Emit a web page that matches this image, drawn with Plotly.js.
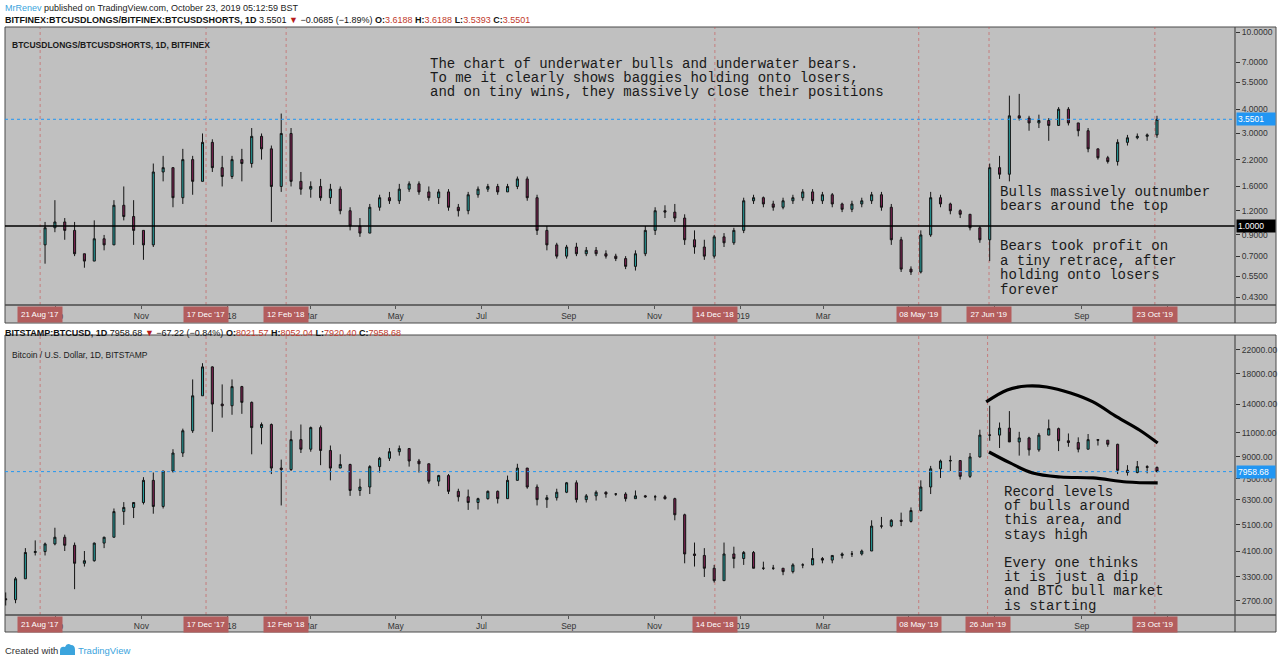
<!DOCTYPE html>
<html>
<head>
<meta charset="utf-8">
<script src="https://cdn.plot.ly/plotly-3.0.1.min.js"></script>
<style>html,body{margin:0;padding:0;background:#fff;}#chart{width:1280px;height:663px;}</style>
</head>
<body>
<div id="chart"></div>
<script>
// ---------- DATA ----------
const weeks = [
'2017-07-24','2017-07-31','2017-08-07','2017-08-14','2017-08-21','2017-08-28','2017-09-04','2017-09-11','2017-09-18','2017-09-25','2017-10-02','2017-10-09','2017-10-16','2017-10-23','2017-10-30','2017-11-06','2017-11-13','2017-11-20','2017-11-27','2017-12-04','2017-12-11','2017-12-18','2017-12-25',
'2018-01-01','2018-01-08','2018-01-15','2018-01-22','2018-01-29','2018-02-05','2018-02-12','2018-02-19','2018-02-26','2018-03-05','2018-03-12','2018-03-19','2018-03-26','2018-04-02','2018-04-09','2018-04-16','2018-04-23','2018-04-30','2018-05-07','2018-05-14','2018-05-21','2018-05-28','2018-06-04','2018-06-11','2018-06-18','2018-06-25','2018-07-02','2018-07-09','2018-07-16','2018-07-23','2018-07-30','2018-08-06','2018-08-13','2018-08-20','2018-08-27','2018-09-03','2018-09-10','2018-09-17','2018-09-24','2018-10-01','2018-10-08','2018-10-15','2018-10-22','2018-10-29','2018-11-05','2018-11-12','2018-11-19','2018-11-26','2018-12-03','2018-12-10','2018-12-17','2018-12-24','2018-12-31',
'2019-01-07','2019-01-14','2019-01-21','2019-01-28','2019-02-04','2019-02-11','2019-02-18','2019-02-25','2019-03-04','2019-03-11','2019-03-18','2019-03-25','2019-04-01','2019-04-08','2019-04-15','2019-04-22','2019-04-29','2019-05-06','2019-05-13','2019-05-20','2019-05-27','2019-06-03','2019-06-10','2019-06-17','2019-06-24','2019-07-01','2019-07-08','2019-07-15','2019-07-22','2019-07-29','2019-08-05','2019-08-12','2019-08-19','2019-08-26','2019-09-02','2019-09-09','2019-09-16','2019-09-23','2019-09-30','2019-10-07','2019-10-14','2019-10-21'
];

// BITSTAMP:BTCUSD weekly OHLC
const btcOpen = [2750,2730,3250,4050,4080,4350,4600,4300,3700,3780,4380,4600,5700,5900,6150,7400,5950,8000,9300,11200,15000,19100,14000,
13800,16200,14200,11500,11800,8200,8100,10400,9600,11500,9500,8200,8450,6800,7000,8300,8900,9400,9650,8700,8500,7350,7700,6750,6450,6150,6350,6750,6350,7400,8200,7000,6300,6400,6700,7250,6300,6500,6700,6600,6600,6350,6500,6450,6450,6350,5550,4000,3950,3550,3200,4000,3850,
4050,3550,3550,3550,3450,3650,3650,3850,3800,3950,4000,4000,4100,5050,5050,5300,5250,5750,7000,8150,8700,8730,7650,9000,10800,10800,11450,10200,10550,9550,10800,11400,10300,10150,9600,10400,10350,10000,8050,7900,8300,8250];
const btcHigh = [2900,3300,4200,4480,4400,4980,4700,4400,4100,4400,4620,5850,6170,6100,7600,7900,8000,9600,11400,17200,19700,19200,16500,
17200,16300,14300,12000,11900,8800,11200,11800,11600,11700,9900,9200,8500,7500,8400,9000,9700,9900,9700,8850,8500,7750,7800,6900,6850,6400,6800,6800,7700,8500,8200,7150,6550,6900,7300,7400,6600,6800,6750,6650,6700,6800,6550,6550,6550,6400,5600,4400,4200,3650,4400,4250,4100,
4100,3750,3650,3550,3700,3700,4200,3900,3950,4050,4100,4150,5300,5450,5350,5650,5900,7400,8350,8800,9100,8750,9300,11300,13800,12000,13200,11100,10650,11000,12300,11500,10950,10600,10900,10450,10350,10050,8400,8700,8400,8300];
const btcLow = [2600,2650,3250,3950,3950,4300,4100,2980,3600,3750,4200,4600,5100,5400,6050,5600,5850,7900,9000,11000,15000,11100,12500,
12800,12900,9200,10000,7800,6000,8000,9300,9400,8400,7400,8200,6500,6500,6600,7900,8700,9100,8300,7900,7200,7050,6600,6200,5780,5800,6300,6100,6350,7400,6900,6000,5880,6250,6650,6150,6150,6250,6400,6500,6200,6350,6400,6250,6300,5300,3700,3600,3300,3150,3200,3550,3650,
3550,3500,3500,3350,3400,3550,3650,3700,3700,3850,3900,3950,4100,4950,5000,5050,5200,5700,6600,7550,8000,7450,7550,8950,10300,9700,11100,9100,9100,9400,10800,9450,9800,9350,9600,9900,9800,7800,7700,7850,7850,7920];
const btcClose = [2730,3250,4050,4080,4350,4600,4300,3700,3780,4380,4600,5700,5900,6150,7400,5950,8000,9300,11200,15000,19100,14000,13800,
16200,14200,11500,11800,8200,8100,10400,9600,11500,9500,8200,8450,6800,7000,8300,8900,9400,9650,8700,8500,7350,7700,6750,6450,6150,6350,6750,6350,7400,8200,7000,6300,6400,6700,7250,6300,6500,6700,6600,6600,6350,6500,6450,6450,6350,5550,4000,3950,3550,3200,4000,3850,4050,
3550,3550,3550,3450,3650,3650,3850,3800,3950,4000,4000,4100,5050,5050,5300,5250,5750,7000,8150,8700,8730,7650,9000,10800,10800,11450,10200,10550,9550,10800,11400,10300,10150,9600,10400,10350,10000,8050,7900,8300,8250,7958.68];

// BITFINEX longs/shorts ratio weekly OHLC (from week of 2017-08-21)
const ratioOpen = [0.80,0.98,1.05,0.95,0.72,0.66,0.86,0.80,1.28,1.12,0.95,0.80,1.9,2.0,1.4,2.2,1.7,2.7,2.0,1.8,2.2,2.1,2.9,2.5,1.6,3.0,1.7,1.55,1.6,1.4,1.55,1.2,1.0,0.92,1.25,1.4,1.35,1.55,1.65,1.5,1.4,1.5,1.25,1.2,1.45,1.55,1.6,1.5,1.6,1.75,1.4,0.95,0.8,0.7,0.78,0.72,0.75,0.72,0.7,0.68,0.62,0.72,0.95,1.2,1.18,1.1,0.85,0.78,0.7,0.88,0.82,0.95,1.35,1.4,1.3,1.25,1.35,1.4,1.5,1.35,1.45,1.3,1.22,1.3,1.35,1.45,1.25,0.85,0.6,0.58,0.9,1.4,1.3,1.2,1.15,0.98,0.85,2.0,1.85,3.7,3.6,3.4,3.5,3.3,4.0,3.4,3.1,2.5,2.25,2.15,2.7,2.85,2.9,2.95];
const ratioHigh = [1.05,1.36,1.10,1.05,0.72,1.07,0.90,1.36,1.60,1.36,0.95,2.1,2.3,2.0,2.5,2.3,3.0,2.8,2.3,2.3,2.5,3.2,3.0,2.6,3.8,3.2,1.9,1.7,1.75,1.65,1.6,1.25,1.1,1.3,1.45,1.5,1.65,1.7,1.7,1.6,1.55,1.55,1.3,1.5,1.6,1.65,1.65,1.65,1.8,1.8,1.45,1.0,0.82,0.8,0.82,0.78,0.78,0.75,0.72,0.7,0.75,1.0,1.25,1.28,1.3,1.15,0.95,0.85,0.9,0.92,0.98,1.4,1.45,1.42,1.35,1.4,1.45,1.55,1.55,1.5,1.48,1.32,1.35,1.4,1.5,1.5,1.3,0.88,0.62,0.95,1.5,1.45,1.32,1.22,1.15,1.0,2.1,2.3,4.7,4.8,3.7,3.75,3.6,4.1,4.1,3.4,3.2,2.5,2.3,2.8,2.95,3.0,3.0,3.7];
const ratioLow = [0.64,0.93,0.85,0.70,0.61,0.66,0.75,0.80,1.07,0.80,0.67,0.78,1.7,1.25,1.3,1.45,1.7,1.9,1.6,1.75,1.7,2.0,2.2,1.05,1.5,1.6,1.45,1.4,1.35,1.3,1.15,0.95,0.88,0.92,1.2,1.3,1.3,1.5,1.45,1.35,1.3,1.2,1.12,1.15,1.4,1.5,1.45,1.5,1.55,1.35,0.9,0.75,0.68,0.68,0.7,0.7,0.7,0.68,0.66,0.6,0.59,0.7,0.9,1.1,1.05,0.8,0.72,0.67,0.68,0.78,0.8,0.92,1.3,1.25,1.2,1.22,1.3,1.35,1.3,1.3,1.25,1.18,1.18,1.25,1.3,1.2,0.8,0.58,0.56,0.57,0.88,1.25,1.15,1.1,0.95,0.82,0.66,1.75,1.7,3.5,3.1,3.2,2.75,3.3,3.3,2.9,2.4,2.2,2.1,2.05,2.6,2.8,2.75,2.85];
const ratioClose = [0.98,1.05,0.95,0.72,0.66,0.86,0.80,1.28,1.12,0.95,0.80,1.9,2.0,1.4,2.2,1.7,2.7,2.0,1.8,2.2,2.1,2.9,2.5,1.6,3.0,1.7,1.55,1.6,1.4,1.55,1.2,1.0,0.92,1.25,1.4,1.35,1.55,1.65,1.5,1.4,1.5,1.25,1.2,1.45,1.55,1.6,1.5,1.6,1.75,1.4,0.95,0.8,0.7,0.78,0.72,0.75,0.72,0.7,0.68,0.62,0.72,0.95,1.2,1.18,1.1,0.85,0.78,0.7,0.88,0.82,0.95,1.35,1.4,1.3,1.25,1.35,1.4,1.5,1.35,1.45,1.3,1.22,1.3,1.35,1.45,1.25,0.85,0.6,0.58,0.9,1.4,1.3,1.2,1.15,0.98,0.85,2.0,1.85,3.7,3.6,3.4,3.5,3.3,4.0,3.4,3.1,2.5,2.25,2.15,2.7,2.85,2.9,2.95,3.5501];
const ratioWeeks = weeks.slice(4);

const lastRatio = 3.5501;
const lastBtc = 7958.68;
const baseRatio = 1.0;

const topTickVals = [10,7,5.5,4,3,2.2,1.6,1.2,0.9,0.7,0.55,0.43];
const topTickText = ['10.0000','7.0000','5.5000','4.0000','3.0000','2.2000','1.6000','1.2000','0.9000','0.7000','0.5500','0.4300'];
const botTickVals = [22000,18000,14000,11000,9000,7500,6300,5100,4100,3300,2700];
const botTickText = ['22000.00','18000.00','14000.00','11000.00','9000.00','7500.00','6300.00','5100.00','4100.00','3300.00','2700.00'];

const monthTicks = ['2017-09-01','2017-11-01','2018-01-01','2018-03-01','2018-05-01','2018-07-01','2018-09-01','2018-11-01','2019-01-01','2019-03-01','2019-05-01','2019-07-01','2019-09-01','2019-11-01'];
const monthLabels = ['Sep','Nov','2018','Mar','May','Jul','Sep','Nov','2019','Mar','May','Jul','Sep','Nov'];

const topMarkDates = ['2017-08-21','2017-12-17','2018-02-12','2018-12-14','2019-05-08','2019-06-27','2019-10-23'];
const topMarkLabels = ["21 Aug '17","17 Dec '17","12 Feb '18","14 Dec '18","08 May '19","27 Jun '19","23 Oct '19"];
const botMarkDates = ['2017-08-21','2017-12-17','2018-02-12','2018-12-14','2019-05-08','2019-06-26','2019-10-23'];
const botMarkLabels = ["21 Aug '17","17 Dec '17","12 Feb '18","14 Dec '18","08 May '19","26 Jun '19","23 Oct '19"];

// hand-drawn curves on the BTC panel
const upperCurveX = ['2019-06-25','2019-07-10','2019-07-24','2019-08-07','2019-08-24','2019-09-09','2019-09-26','2019-10-12','2019-10-25'];
const upperCurveY = [14250,15750,16280,16150,15360,14250,12570,11270,10110];
const lowerCurveX = ['2019-06-27','2019-07-12','2019-07-28','2019-08-17','2019-09-09','2019-10-03','2019-10-25'];
const lowerCurveY = [9380,8560,7870,7610,7550,7300,7240];

const xRange = ['2017-07-27','2019-12-19'];

// ---------- LAYOUT HELPERS ----------
const W = 1280, H = 663;
const X = p => p / W;
const Y = p => 1 - p / H;
const GREY = '#c0c0c0';
const BORDER = '#4a4a4a';
const SANS = 'Liberation Sans, Arial, sans-serif';
const MONO = 'Liberation Mono, Courier New, monospace';
const RED = '#c0392b';
const TAG = '#b35d5d';
const BLUE = '#2196f3';

const candleStyle = {
  increasing: {line: {color: '#141414', width: 1}, fillcolor: '#279c9b'},
  decreasing: {line: {color: '#141414', width: 1}, fillcolor: '#7a2150'},
  whiskerwidth: 0,
  xperiod: 7 * 24 * 3600 * 1000,
  xperiod0: '2017-07-24',
  xperiodalignment: 'middle',
  hoverinfo: 'skip'
};

const traces = [
  Object.assign({type: 'candlestick', x: ratioWeeks, open: ratioOpen, high: ratioHigh, low: ratioLow, close: ratioClose, xaxis: 'x', yaxis: 'y'}, candleStyle),
  Object.assign({type: 'candlestick', x: weeks, open: btcOpen, high: btcHigh, low: btcLow, close: btcClose, xaxis: 'x2', yaxis: 'y2'}, candleStyle),
  {type: 'scatter', mode: 'lines', x: xRange, y: [baseRatio, baseRatio], xaxis: 'x', yaxis: 'y', line: {color: '#000', width: 1.6}, hoverinfo: 'skip'},
  {type: 'scatter', mode: 'lines', x: xRange, y: [lastRatio, lastRatio], xaxis: 'x', yaxis: 'y', line: {color: BLUE, width: 1, dash: 'dot'}, hoverinfo: 'skip'},
  {type: 'scatter', mode: 'lines', x: xRange, y: [lastBtc, lastBtc], xaxis: 'x2', yaxis: 'y2', line: {color: BLUE, width: 1, dash: 'dot'}, hoverinfo: 'skip'},
  {type: 'scatter', mode: 'lines', x: upperCurveX, y: upperCurveY, xaxis: 'x2', yaxis: 'y2', line: {color: '#000', width: 3.2, shape: 'spline'}, hoverinfo: 'skip'},
  {type: 'scatter', mode: 'lines', x: lowerCurveX, y: lowerCurveY, xaxis: 'x2', yaxis: 'y2', line: {color: '#000', width: 3.2, shape: 'spline'}, hoverinfo: 'skip'}
];

function xAxis(anchor) {
  return {
    domain: [X(5), X(1235)], anchor: anchor, type: 'date', range: xRange,
    rangeslider: {visible: false}, tickmode: 'array', tickvals: monthTicks, ticktext: monthLabels,
    ticks: 'outside', ticklen: 3, tickcolor: '#555', tickfont: {size: 8.5, color: '#333', family: SANS},
    showgrid: false, showline: false, zeroline: false, fixedrange: true
  };
}
function yAxis(anchor, dom, range, vals, text) {
  return {
    domain: dom, anchor: anchor, type: 'log', side: 'right', range: range,
    tickmode: 'array', tickvals: vals, ticktext: text,
    ticks: 'outside', ticklen: 4, tickcolor: '#333', tickfont: {size: 8.5, color: '#333', family: SANS},
    showgrid: false, showline: false, zeroline: false, fixedrange: true
  };
}

const shapes = [];
function panel(top, axisY, bottom) {
  shapes.push({type: 'rect', xref: 'paper', yref: 'paper', x0: X(5), x1: X(1276), y0: Y(bottom), y1: Y(top), fillcolor: GREY, line: {color: BORDER, width: 1}, layer: 'below'});
  shapes.push({type: 'line', xref: 'paper', yref: 'paper', x0: X(5), x1: X(1276), y0: Y(axisY), y1: Y(axisY), line: {color: BORDER, width: 1.5}, layer: 'above'});
  shapes.push({type: 'line', xref: 'paper', yref: 'paper', x0: X(1235), x1: X(1235), y0: Y(bottom), y1: Y(top), line: {color: BORDER, width: 1.2}, layer: 'above'});
}
panel(27, 305, 323);
panel(335, 615, 632);

const annotations = [];
function vmarks(dates, labels, xref, top, axisY) {
  dates.forEach((d, i) => {
    shapes.push({type: 'line', xref: xref, yref: 'paper', x0: d, x1: d, y0: Y(axisY), y1: Y(top), line: {color: 'rgba(200,80,80,0.6)', width: 1, dash: 'dot'}, layer: 'below'});
    annotations.push({xref: xref, yref: 'paper', x: d, y: Y(axisY + 9), xanchor: 'center', yanchor: 'middle', showarrow: false,
      text: labels[i], bgcolor: TAG, width: 42, height: 13, borderpad: 1, font: {size: 8, color: '#fff', family: SANS}});
  });
}
vmarks(topMarkDates, topMarkLabels, 'x', 27, 305);
vmarks(botMarkDates, botMarkLabels, 'x2', 335, 615);

function priceTag(text, val, yref, bg) {
  annotations.push({xref: 'paper', yref: yref, x: X(1236), y: Math.log10(val), xanchor: 'left', yanchor: 'middle', showarrow: false,
    text: text, bgcolor: bg, width: 36, height: 10, borderpad: 1, align: 'left', font: {size: 8.5, color: '#fff', family: SANS}});
}
priceTag('3.5501', lastRatio, 'y', BLUE);
priceTag('1.0000', baseRatio, 'y', '#000');
priceTag('7958.68', lastBtc, 'y2', BLUE);

function txt(text, x, y, size, family, color) {
  annotations.push({xref: 'paper', yref: 'paper', x: X(x), y: Y(y), xanchor: 'left', yanchor: 'middle', showarrow: false,
    text: text, font: {size: size, family: family, color: color || '#222'}});
}
txt('<span style="color:#3ba4dd">MrRenev</span> published on TradingView.com, October 23, 2019 05:12:59 BST', 3, 8, 9, SANS, '#222');
txt('<b>BITFINEX:BTCUSDLONGS/BITFINEX:BTCUSDSHORTS, 1D</b> 3.5501 <span style="color:#b71c1c">▼</span> −0.0685 (−1.89%) <b>O:</b><span style="color:' + RED + '">3.6188</span> <b>H:</b><span style="color:' + RED + '">3.6188</span> <b>L:</b><span style="color:' + RED + '">3.5393</span> <b>C:</b><span style="color:' + RED + '">3.5501</span>', 3, 20, 9, SANS, '#111');
txt('<b>BITSTAMP:BTCUSD, 1D</b> 7958.68 <span style="color:#b71c1c">▼</span> −67.22 (−0.84%) <b>O:</b><span style="color:' + RED + '">8021.57</span> <b>H:</b><span style="color:' + RED + '">8052.04</span> <b>L:</b><span style="color:' + RED + '">7920.40</span> <b>C:</b><span style="color:' + RED + '">7958.68</span>', 3, 333, 9, SANS, '#111');
txt('<b>BTCUSDLONGS/BTCUSDSHORTS, 1D, BITFINEX</b>', 10, 45, 8.5, SANS, '#1a1a1a');
txt('Bitcoin / U.S. Dollar, 1D, BITSTAMP', 10, 355, 8.5, SANS, '#1a1a1a');
txt('Created with', 3, 650, 9.5, SANS, '#333');
txt('TradingView', 76, 650, 9.5, SANS, '#3ba4dd');

const topNote = ['The chart of underwater bulls and underwater bears.', 'To me it clearly shows baggies holding onto losers,', 'and on tiny wins, they massively close their positions'];
const topNoteY = [64, 78, 92];
topNote.forEach((t, i) => txt(t, 428, topNoteY[i], 14, MONO, '#1a1a1a'));
const bullNote = ['Bulls massively outnumber', 'bears around the top'];
const bullNoteY = [192, 206];
bullNote.forEach((t, i) => txt(t, 998, bullNoteY[i], 14, MONO, '#1a1a1a'));
const bearNote = ['Bears took profit on', 'a tiny retrace, after', 'holding onto losers', 'forever'];
const bearNoteY = [246, 261, 275, 290];
bearNote.forEach((t, i) => txt(t, 998, bearNoteY[i], 14, MONO, '#1a1a1a'));
const btcNote = ['Record levels', 'of bulls around', 'this area, and', 'stays high', 'Every one thinks', 'it is just a dip', 'and BTC bull market', 'is starting'];
const btcNoteY = [492, 506, 520, 535, 563, 577, 591, 606];
btcNote.forEach((t, i) => txt(t, 1002, btcNoteY[i], 14, MONO, '#1a1a1a'));

// TradingView logo (small cloud)
const lp = (x, y) => X(x) + ',' + Y(y);
shapes.push({type: 'path', xref: 'paper', yref: 'paper',
  path: 'M' + lp(60, 655) + ' L' + lp(60, 651) + ' Q' + lp(60, 646) + ' ' + lp(65, 647) + ' Q' + lp(67, 642) + ' ' + lp(71, 645) + ' Q' + lp(75, 645) + ' ' + lp(75, 650) + ' L' + lp(75, 655) + ' Z',
  fillcolor: '#3ba4dd', line: {color: '#3ba4dd', width: 0}});

const layout = {
  width: W, height: H, margin: {l: 0, r: 0, t: 0, b: 0},
  paper_bgcolor: '#ffffff', plot_bgcolor: 'rgba(0,0,0,0)',
  showlegend: false, hovermode: false, boxgap: 0.7,
  xaxis: xAxis('y'),
  xaxis2: xAxis('y2'),
  yaxis: yAxis('x', [Y(305), Y(27)], [Math.log10(0.392), 1.0258], topTickVals, topTickText),
  yaxis2: yAxis('x2', [Y(615), Y(335)], [3.3805, 4.3968], botTickVals, botTickText),
  shapes: shapes,
  annotations: annotations
};

Plotly.newPlot('chart', traces, layout, {staticPlot: true, displayModeBar: false});
</script>
</body>
</html>
